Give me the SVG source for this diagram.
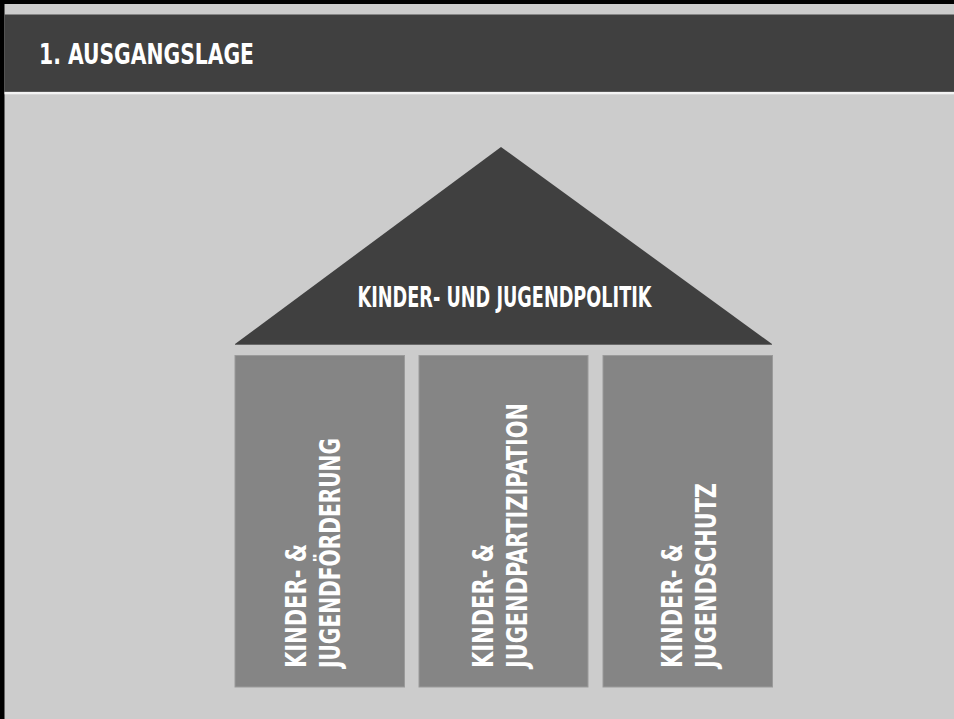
<svg xmlns="http://www.w3.org/2000/svg" width="954" height="719" viewBox="0 0 954 719">
<style>
.t{font-family:"Liberation Sans Narrow","DejaVu Sans Condensed","Liberation Sans",sans-serif;font-weight:bold;fill:#ffffff}
.pillar{fill:#858585;stroke:#9a9a9a;stroke-width:1}
</style>
<rect x="0" y="0" width="954" height="719" fill="#cccccc"/>
<rect x="0" y="0" width="954" height="4" fill="#000000"/>
<rect x="0" y="0" width="4.5" height="719" fill="#000000"/>
<g id="header">
<rect x="4.5" y="14.5" width="949.5" height="76.5" fill="#404040"/>
<rect x="4.5" y="91" width="949.5" height="1" fill="#5a5a5a"/>
<rect x="4.5" y="92" width="949.5" height="2.3" fill="#f4f4f4"/>
<text class="t" x="39" y="63.5" font-size="29" textLength="215" lengthAdjust="spacingAndGlyphs">1. AUSGANGSLAGE</text>
</g>
<g id="roof">
<polygon points="501,147 772,344 235,344" fill="#404040"/>
<line x1="235" y1="344.5" x2="772" y2="344.5" stroke="#6a6a6a" stroke-width="1"/>
<text class="t" x="357.5" y="306.5" font-size="28.5" textLength="294" lengthAdjust="spacingAndGlyphs">KINDER- UND JUGENDPOLITIK</text>
</g>
<g id="pillar1">
<rect class="pillar" x="235" y="355.5" width="169.5" height="331.5"/>
<text class="t" transform="translate(306,668) rotate(-90)" font-size="29"><tspan x="0" y="0" textLength="124" lengthAdjust="spacingAndGlyphs">KINDER- &amp;</tspan><tspan x="0" y="34" textLength="230" lengthAdjust="spacingAndGlyphs">JUGENDFÖRDERUNG</tspan></text>
</g>
<g id="pillar2">
<rect class="pillar" x="419" y="355.5" width="169" height="331.5"/>
<text class="t" transform="translate(492.5,668) rotate(-90)" font-size="29"><tspan x="0" y="0" textLength="124" lengthAdjust="spacingAndGlyphs">KINDER- &amp;</tspan><tspan x="0" y="34" textLength="265" lengthAdjust="spacingAndGlyphs">JUGENDPARTIZIPATION</tspan></text>
</g>
<g id="pillar3">
<rect class="pillar" x="603" y="355.5" width="169.5" height="331.5"/>
<text class="t" transform="translate(682,668) rotate(-90)" font-size="29"><tspan x="0" y="0" textLength="124" lengthAdjust="spacingAndGlyphs">KINDER- &amp;</tspan><tspan x="0" y="34" textLength="185" lengthAdjust="spacingAndGlyphs">JUGENDSCHUTZ</tspan></text>
</g>
<g id="connectors"/>
</svg>
